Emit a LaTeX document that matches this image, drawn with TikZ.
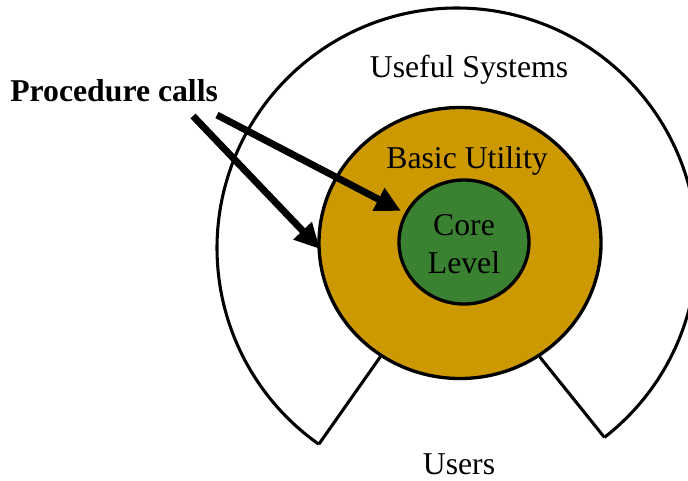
\documentclass[tikz,border=0pt]{standalone}
\usepackage{fontspec}
\setmainfont{Liberation Serif}
\usetikzlibrary{shapes.geometric,arrows.meta}
\definecolor{gold}{RGB}{204,153,0}
\definecolor{coregreen}{RGB}{58,130,50}
\tikzset{
  ring/.style={ellipse, draw=black, inner sep=0pt, line width=2.5pt},
  lbl/.style={inner sep=0pt, anchor=base, font=\fontsize{23.8}{28}\selectfont},
  callarrow/.style={line width=5.2pt, -{Triangle[length=19pt, width=18pt]}},
  edge/.style={line width=2.3pt}
}
\begin{document}
\begin{tikzpicture}[x=0.75pt, y=-0.75pt]
\useasboundingbox (0,0) rectangle (688,481);
\clip (0,0) rectangle (688,481);
% outer arc
\coordinate (C) at (457,248);
\coordinate (endR) at ([shift={(307.9:180pt)}]C);
\coordinate (endL) at ([shift={(234.85:180pt)}]C);
\draw[edge] (endR) arc[start angle=307.9, end angle=594.85, radius=180pt];
% gold ellipse
\node[ring, fill=gold, minimum width=211.5pt, minimum height=203.25pt] (basic) at (460,243) {};
% green core
\node[ring, fill=coregreen, minimum width=97.5pt, minimum height=93pt] (core) at (464,242) {};
% lines from basic to arc ends
\draw[edge] (basic.{-125}) -- (endL);
\draw[edge] (basic.{-55}) -- (endR);
% labels
\node[lbl] (useful) at (469,77.5) {Useful Systems};
\node[lbl] (basiclbl) at (467,168) {Basic Utility};
\node[lbl] (corelbl) at (464,235) {Core};
\node[lbl] (levellbl) at (464,273) {Level};
\node[lbl] (users) at (459,474) {Users};
\node[lbl, anchor=base west, font=\fontsize{23.8}{28}\selectfont\bfseries] (proc) at (10,101.5) {Procedure calls};
% arrows
\coordinate (s1) at (217,115);
\coordinate (t1) at (401,211);
\coordinate (s2) at (193,116);
\coordinate (t2) at (320,249);
\draw[callarrow] (s1) -- (t1);
\draw[callarrow] (s2) -- (t2);
\end{tikzpicture}
\end{document}
